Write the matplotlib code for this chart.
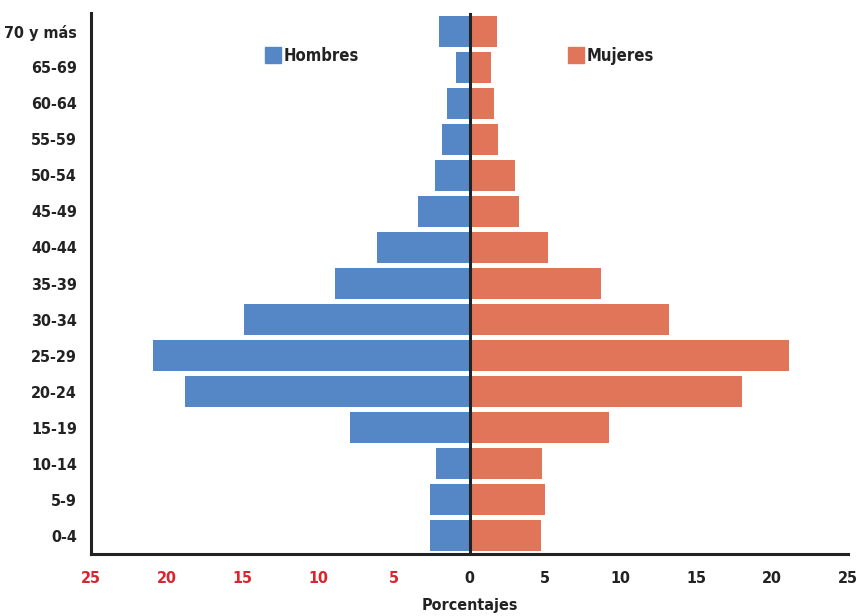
import matplotlib
matplotlib.use("Agg")
import matplotlib.pyplot as plt
import numpy as np
from matplotlib.patches import Rectangle

categories = ["0-4", "5-9", "10-14", "15-19", "20-24", "25-29", "30-34", "35-39",
              "40-44", "45-49", "50-54", "55-59", "60-64", "65-69", "70 y más"]
hombres = [2.6, 2.6, 2.2, 7.9, 18.8, 20.9, 14.9, 8.9, 6.1, 3.4, 2.3, 1.8, 1.5, 0.9, 2.0]
mujeres = [4.7, 5.0, 4.8, 9.2, 18.0, 21.1, 13.2, 8.7, 5.2, 3.3, 3.0, 1.9, 1.65, 1.45, 1.8]
xticks = [-25, -20, -15, -10, -5, 0, 5, 10, 15, 20, 25]
xticklabels = ["25", "20", "15", "10", "5", "0", "5", "10", "15", "20", "25"]

blue = "#5587C7"
orange = "#E0755A"
red = "#D9262E"
dark = "#222222"

plt.rcParams['font.family'] = ['DejaVu Sans']
plt.rcParams['font.stretch'] = 'condensed'

fig = plt.figure(figsize=(8.61, 6.16), dpi=100)
ax = fig.add_axes([91/861, 1-554/616, (848-91)/861, (554-13)/616])

y = np.arange(len(categories))
ax.barh(y, [-v for v in hombres], height=0.86, color=blue, zorder=2)
ax.barh(y, mujeres, height=0.86, color=orange, zorder=2)
ax.axvline(0, color=dark, lw=2.2, zorder=3)

ax.set_xlim(-25, 25)
ax.set_ylim(-0.5, 14.5)
ax.set_yticks(y)
ax.set_yticklabels(categories, fontsize=11.5, color=dark, fontweight='bold')
ax.set_xticks(xticks)
ax.set_xticklabels(xticklabels, fontsize=11.5, fontweight='bold')
for lbl, v in zip(ax.get_xticklabels(), xticks):
    lbl.set_color(red if v < 0 else dark)
ax.tick_params(axis='both', length=0)
ax.tick_params(axis='x', pad=12)
ax.tick_params(axis='y', pad=10)
ax.set_xlabel("Porcentajes", fontsize=11.5, color=dark, labelpad=9, fontweight='bold')

for s in ["top", "right"]:
    ax.spines[s].set_visible(False)
for s in ["left", "bottom"]:
    ax.spines[s].set_color(dark)
    ax.spines[s].set_linewidth(2.2)

# legend
for x0, col, txt in [(265, blue, "Hombres"), (568, orange, "Mujeres")]:
    fig.patches.append(Rectangle((x0/861, 1-63/616), 16/861, 16/616,
                                 transform=fig.transFigure, color=col))
    fig.text((x0+19)/861, 1-56/616, txt, fontsize=12, color=dark,
             va='center', ha='left', fontweight='bold')

fig.savefig("out.png", dpi=100)
